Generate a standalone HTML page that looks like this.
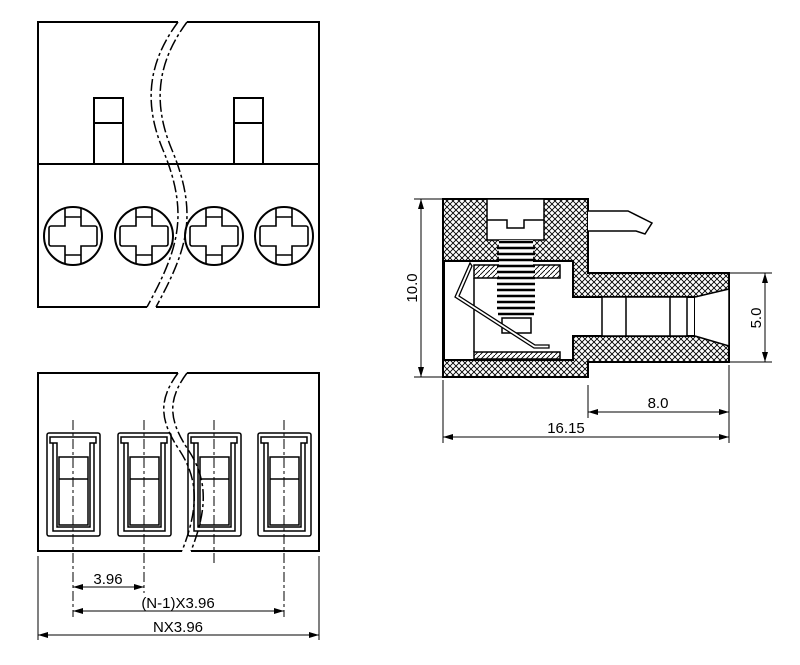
<!DOCTYPE html>
<html><head><meta charset="utf-8"><style>
html,body{margin:0;padding:0;background:#fff;}
svg{display:block;}
text{font-family:"Liberation Sans Narrow","Liberation Sans",sans-serif;font-size:15px;fill:#000;}
</style></head><body>
<svg width="800" height="665" viewBox="0 0 800 665" xmlns="http://www.w3.org/2000/svg">
<defs>
<pattern id="x" width="6" height="6" patternUnits="userSpaceOnUse">
<rect width="6" height="6" fill="#fff"/>
<path d="M0 0L6 6M6 0L0 6" stroke="#000" stroke-width="0.9"/>
</pattern>
<pattern id="d" width="5" height="5" patternUnits="userSpaceOnUse">
<rect width="5" height="5" fill="#fff"/>
<path d="M0 5L5 0" stroke="#000" stroke-width="0.9"/>
</pattern>
<marker id="a" viewBox="0 0 10 6" refX="10" refY="3" markerWidth="10" markerHeight="6" orient="auto-start-reverse" markerUnits="userSpaceOnUse">
<path d="M0 0L10 3L0 6z" fill="#000"/>
</marker>
</defs>
<g fill="none" stroke="#000" stroke-width="2">
<!-- TOP VIEW -->
<path d="M178 22H38V307H147M156 307H319V22H187"/>
<line x1="38" y1="164" x2="319" y2="164"/>
<rect x="94" y="98" width="29" height="66"/><line x1="94" y1="123" x2="123" y2="123"/>
<rect x="234" y="98" width="29" height="66"/><line x1="234" y1="123" x2="263" y2="123"/>
<g stroke-width="1.5">
<path d="M178 22C150 60,142 100,163 150C190 215,178 250,147 307" stroke-dasharray="12 3 3 3"/>
<path d="M187 22C159 60,151 100,172 150C199 215,187 250,156 307" stroke-dasharray="12 3 3 3"/>
</g>
<g id="scr">
<circle cx="73" cy="236" r="29"/>
<path stroke-width="1.6" d="M65 207.5V226H51A2 2 0 0 0 49 228V244A2 2 0 0 0 51 246H65V264.5M81 207.5V226H95A2 2 0 0 1 97 228V244A2 2 0 0 1 95 246H81V264.5"/>
<path stroke-width="1.5" d="M65 217H81M65 255H81"/>
</g>
<use href="#scr" x="71"/><use href="#scr" x="141"/><use href="#scr" x="211"/>
<!-- BOTTOM VIEW -->
<path d="M178 373H38V551H182M191 551H319V373H187"/>
<g id="slot" stroke-width="1.5">
<rect x="47" y="433" width="53" height="103" rx="2"/>
<path d="M50 437H96V443H90V527H57V443H50Z"/>
<path d="M53 443V531H94V443"/>
<rect x="59" y="457" width="29" height="68"/>
<line x1="59" y1="479" x2="88" y2="479"/>
</g>
<use href="#slot" x="71"/><use href="#slot" x="141"/><use href="#slot" x="211"/>
<g stroke-width="1.5">
<path d="M178 373C158 400,160 420,178 448C200 480,198 510,182 551" stroke-dasharray="12 3 3 3"/>
<path d="M187 373C167 400,169 420,187 448C209 480,207 510,191 551" stroke-dasharray="12 3 3 3"/>
</g>
<g stroke-width="1" stroke-dasharray="10 3 3 3">
<line x1="73" y1="420" x2="73" y2="617"/><line x1="144" y1="420" x2="144" y2="593"/>
<line x1="214" y1="420" x2="214" y2="565"/><line x1="284" y1="420" x2="284" y2="617"/>
</g>
<g stroke-width="1">
<line x1="38" y1="556" x2="38" y2="640"/><line x1="319" y1="556" x2="319" y2="640"/>
<line x1="73" y1="587" x2="144" y2="587" marker-start="url(#a)" marker-end="url(#a)"/>
<line x1="73" y1="611" x2="284" y2="611" marker-start="url(#a)" marker-end="url(#a)"/>
<line x1="38" y1="635" x2="319" y2="635" marker-start="url(#a)" marker-end="url(#a)"/>
</g>
<!-- SIDE VIEW -->
<path d="M443 199H588V273H729V362H588V377H443Z" fill="url(#x)"/>
<path d="M444 261H573V297H695V336H573V360H444Z" fill="#fff"/>
<path d="M695 297L729 289V346L695 336" fill="#fff" stroke-width="1.5"/>
<rect x="487" y="199" width="57" height="41" fill="#fff" stroke-width="1.5"/>
<path d="M487 220H507V228H524V220H544" stroke-width="1.5"/>
<rect x="474" y="265" width="86" height="13" fill="url(#d)" stroke-width="1.5"/>
<rect x="474" y="352" width="86" height="7" fill="url(#d)" stroke-width="1.5"/>
<line x1="474" y1="278" x2="474" y2="352" stroke-width="1.5"/>
<rect x="499" y="240" width="34" height="100" fill="#fff" stroke="none"/>
<path d="M499 242H533M497 248H535M497 254H535M497 260H535M497 266H535M497 272H535M497 278H535M497 284H535M497 290H535M497 296H535M497 302H535M497 308H535M498 314H534" stroke-width="2.5"/>
<path d="M502 318H531V333H502Z" stroke-width="1.5"/>
<path d="M470 263L455 297L534 348L549 348L549 345L535 345L459 296L472 266Z" fill="#fff" stroke-width="1.3"/>
<rect x="602" y="297" width="85" height="39" fill="#fff" stroke-width="1.5"/>
<line x1="626" y1="297" x2="626" y2="336" stroke-width="1.5"/>
<line x1="670" y1="297" x2="670" y2="336" stroke-width="1.5"/>
<path d="M588 211H628L652 223L645 234L636 231H588" fill="#fff" stroke-width="1.5"/>
<g stroke-width="1">
<line x1="414" y1="199" x2="443" y2="199"/><line x1="414" y1="377" x2="443" y2="377"/>
<line x1="421" y1="199" x2="421" y2="377" marker-start="url(#a)" marker-end="url(#a)"/>
<line x1="729" y1="273" x2="772" y2="273"/><line x1="729" y1="362" x2="772" y2="362"/>
<line x1="765" y1="273" x2="765" y2="362" marker-start="url(#a)" marker-end="url(#a)"/>
<line x1="443" y1="380" x2="443" y2="443"/><line x1="588" y1="385" x2="588" y2="418"/><line x1="729" y1="365" x2="729" y2="443"/>
<line x1="588" y1="412" x2="729" y2="412" marker-start="url(#a)" marker-end="url(#a)"/>
<line x1="443" y1="437" x2="729" y2="437" marker-start="url(#a)" marker-end="url(#a)"/>
</g>
</g>
<text x="108" y="584" text-anchor="middle">3.96</text>
<text x="178" y="608" text-anchor="middle">(N-1)X3.96</text>
<text x="178" y="632" text-anchor="middle">NX3.96</text>
<text x="658" y="408" text-anchor="middle">8.0</text>
<text x="566" y="433" text-anchor="middle">16.15</text>
<text transform="translate(417,288) rotate(-90)" text-anchor="middle">10.0</text>
<text transform="translate(761,318) rotate(-90)" text-anchor="middle">5.0</text>
</svg>
</body></html>
